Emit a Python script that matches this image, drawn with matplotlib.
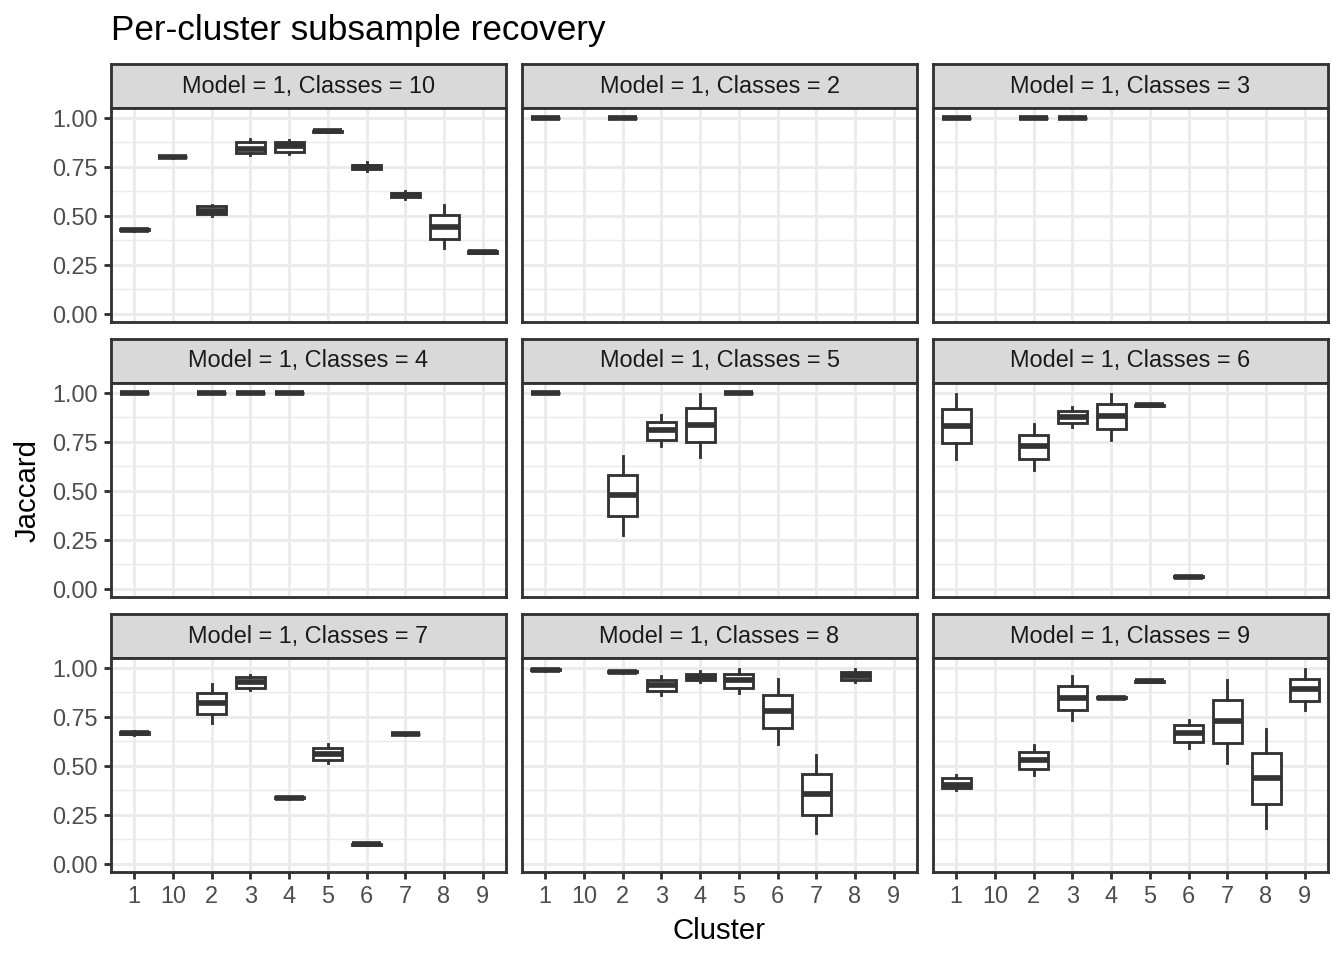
import matplotlib
matplotlib.use("Agg")
import matplotlib.pyplot as plt

plt.rcParams['font.family'] = ['Liberation Sans', 'DejaVu Sans']

#%% data: (cluster, whisker low, q1, median, q3, whisker high)
cluster_levels = ["1", "10", "2", "3", "4", "5", "6", "7", "8", "9"]
facet_classes = ["10", "2", "3", "4", "5", "6", "7", "8", "9"]

k10 = [("1", 0.425, 0.428, 0.430, 0.432, 0.435),
       ("10", 0.795, 0.798, 0.800, 0.802, 0.805),
       ("2", 0.500, 0.510, 0.525, 0.550, 0.556),
       ("3", 0.808, 0.820, 0.840, 0.876, 0.891),
       ("4", 0.816, 0.827, 0.855, 0.876, 0.888),
       ("5", 0.925, 0.927, 0.930, 0.933, 0.935),
       ("6", 0.729, 0.740, 0.750, 0.760, 0.774),
       ("7", 0.585, 0.595, 0.605, 0.615, 0.628),
       ("8", 0.335, 0.383, 0.442, 0.505, 0.556),
       ("9", 0.310, 0.313, 0.317, 0.320, 0.323)]
k2 = [("1", 1.0, 1.0, 1.0, 1.0, 1.0),
      ("2", 1.0, 1.0, 1.0, 1.0, 1.0)]
k3 = [("1", 1.0, 1.0, 1.0, 1.0, 1.0),
      ("2", 1.0, 1.0, 1.0, 1.0, 1.0),
      ("3", 1.0, 1.0, 1.0, 1.0, 1.0)]
k4 = [("1", 1.0, 1.0, 1.0, 1.0, 1.0),
      ("2", 1.0, 1.0, 1.0, 1.0, 1.0),
      ("3", 1.0, 1.0, 1.0, 1.0, 1.0),
      ("4", 1.0, 1.0, 1.0, 1.0, 1.0)]
k5 = [("1", 0.997, 0.998, 1.0, 1.0, 1.0),
      ("2", 0.276, 0.372, 0.480, 0.582, 0.679),
      ("3", 0.726, 0.760, 0.811, 0.852, 0.889),
      ("4", 0.675, 0.750, 0.837, 0.920, 0.996),
      ("5", 0.997, 0.998, 1.0, 1.0, 1.0)]
k6 = [("1", 0.662, 0.743, 0.832, 0.917, 0.996),
      ("2", 0.607, 0.662, 0.726, 0.787, 0.843),
      ("3", 0.825, 0.845, 0.878, 0.906, 0.927),
      ("4", 0.760, 0.815, 0.883, 0.944, 0.996),
      ("5", 0.932, 0.933, 0.935, 0.937, 0.938),
      ("6", 0.060, 0.061, 0.063, 0.065, 0.066)]
k7 = [("1", 0.655, 0.662, 0.667, 0.672, 0.678),
      ("2", 0.719, 0.764, 0.820, 0.872, 0.917),
      ("3", 0.886, 0.898, 0.925, 0.951, 0.962),
      ("4", 0.333, 0.335, 0.337, 0.339, 0.341),
      ("5", 0.512, 0.529, 0.561, 0.592, 0.611),
      ("6", 0.097, 0.099, 0.100, 0.101, 0.103),
      ("7", 0.658, 0.660, 0.662, 0.664, 0.666)]
k8 = [("1", 0.985, 0.988, 0.990, 0.992, 0.995),
      ("2", 0.975, 0.978, 0.980, 0.982, 0.985),
      ("3", 0.862, 0.881, 0.913, 0.939, 0.956),
      ("4", 0.929, 0.940, 0.955, 0.968, 0.981),
      ("5", 0.871, 0.896, 0.935, 0.969, 0.995),
      ("6", 0.611, 0.692, 0.781, 0.862, 0.944),
      ("7", 0.157, 0.252, 0.356, 0.458, 0.553),
      ("8", 0.929, 0.940, 0.960, 0.980, 0.995)]
k9 = [("1", 0.376, 0.389, 0.403, 0.440, 0.454),
      ("2", 0.454, 0.486, 0.531, 0.570, 0.604),
      ("3", 0.735, 0.786, 0.845, 0.905, 0.956),
      ("4", 0.844, 0.845, 0.847, 0.849, 0.850),
      ("5", 0.927, 0.928, 0.930, 0.932, 0.933),
      ("6", 0.593, 0.624, 0.665, 0.706, 0.736),
      ("7", 0.514, 0.616, 0.726, 0.837, 0.940),
      ("8", 0.182, 0.304, 0.437, 0.565, 0.689),
      ("9", 0.784, 0.832, 0.891, 0.944, 0.995)]

facet_data = [k10, k2, k3, k4, k5, k6, k7, k8, k9]
yticks = [0.0, 0.25, 0.5, 0.75, 1.0]
ytick_labels = ["0.00", "0.25", "0.50", "0.75", "1.00"]

#%% layout (pixels of the 1344x960 picture)
W, H = 1344.0, 960.0
col_left = [111, 522, 933]
panel_w = 395
row_strip_top = [64, 339, 614]
strip_h = 44
panel_h = 214

grey20 = "#333333"
lw = 1.07

fig = plt.figure(figsize=(7, 5))

def rect(l, t, w, h):
    return [l / W, 1 - (t + h) / H, w / W, h / H]

for i, (cls, data) in enumerate(zip(facet_classes, facet_data)):
    r, c = divmod(i, 3)
    st = row_strip_top[r]
    # strip
    sax = fig.add_axes(rect(col_left[c], st, panel_w, strip_h))
    sax.set_facecolor("#D9D9D9")
    sax.set_xticks([]); sax.set_yticks([])
    for sp in sax.spines.values():
        sp.set_color(grey20); sp.set_linewidth(lw)
    sax.text(0.5, 0.5, "Model = 1, Classes = " + cls, ha="center", va="center",
             fontsize=8.8, color="#1A1A1A", transform=sax.transAxes)

    ax = fig.add_axes(rect(col_left[c], st + strip_h, panel_w, panel_h))
    ax.set_axisbelow(True)
    stats = []
    pos = []
    for cl, lo, q1, med, q3, hi in data:
        stats.append(dict(med=med, q1=q1, q3=q3, whislo=lo, whishi=hi, fliers=[]))
        pos.append(cluster_levels.index(cl) + 1)
    ax.bxp(stats, positions=pos, widths=0.75, showcaps=False, showfliers=False,
           patch_artist=True,
           boxprops=dict(facecolor="white", edgecolor=grey20, linewidth=lw),
           medianprops=dict(color=grey20, linewidth=2.13, solid_capstyle="butt"),
           whiskerprops=dict(color=grey20, linewidth=lw))
    ax.set_xlim(0.4, 10.6)
    ax.set_ylim(-0.041, 1.0496)
    ax.set_xticks(range(1, 11))
    ax.set_yticks(yticks)
    ax.set_yticks([0.125, 0.375, 0.625, 0.875], minor=True)
    ax.grid(True, which="major", color="#EBEBEB", linewidth=lw)
    ax.grid(True, which="minor", axis="y", color="#EBEBEB", linewidth=lw / 2)
    ax.tick_params(which="minor", length=0)
    for sp in ax.spines.values():
        sp.set_color(grey20); sp.set_linewidth(lw)
    ax.tick_params(axis="both", length=2.75, width=lw, color=grey20,
                   labelsize=8.8, labelcolor="#4D4D4D", pad=2.2)
    if r == 2:
        ax.set_xticklabels(cluster_levels)
    else:
        ax.tick_params(axis="x", length=0, labelbottom=False)
    if c == 0:
        ax.set_yticklabels(ytick_labels)
    else:
        ax.tick_params(axis="y", length=0, labelleft=False)

fig.text(111 / W, 1 - 40 / H, "Per-cluster subsample recovery", fontsize=13.2,
         ha="left", va="baseline")
fig.text(719.5 / W, 1 - 939 / H, "Cluster", fontsize=11, ha="center", va="baseline")
fig.text(28 / W, 1 - 490 / H, "Jaccard", fontsize=11, ha="center", va="center",
         rotation=90)

plt.savefig("out.png", dpi=192)
